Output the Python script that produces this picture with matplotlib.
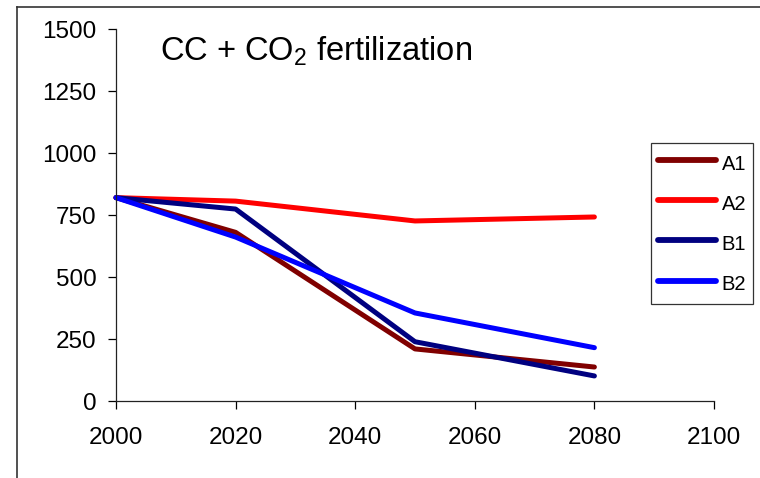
import matplotlib
matplotlib.use("Agg")
import matplotlib.pyplot as plt
from matplotlib.lines import Line2D

plt.rcParams['font.family'] = ['Liberation Sans', 'DejaVu Sans']
plt.rcParams['mathtext.fontset'] = 'custom'
plt.rcParams['mathtext.rm'] = 'Liberation Sans'
plt.rcParams['mathtext.default'] = 'regular'

# scenario runs
years = [2000, 2020, 2050, 2080]
a1 = [820, 680, 210, 137]
a2 = [820, 806, 726, 742]
b1 = [820, 774, 239, 101]
b2 = [820, 661, 355, 215]
series = [("A1", a1, "#800000"), ("A2", a2, "#ff0000"),
          ("B1", b1, "#000080"), ("B2", b2, "#0000ff")]

xticks = [2000, 2020, 2040, 2060, 2080, 2100]
yticks = [0, 250, 500, 750, 1000, 1250, 1500]

fig = plt.figure(figsize=(7.6, 4.78), dpi=100)
ax = fig.add_axes([116 / 760, 1 - 401 / 478, (714 - 116) / 760, (401 - 29) / 478])

for name, vals, col in series:
    ax.plot(years, vals, color=col, lw=3.6, label=name, solid_capstyle='round',
            solid_joinstyle='round', clip_on=False)

ax.set_xlim(2000, 2100)
ax.set_ylim(0, 1500)
ax.set_xticks(xticks)
ax.set_yticks(yticks)
ax.tick_params(direction='out', length=6, width=0.9, labelsize=17.5, colors='black')
ax.tick_params(axis='x', pad=13)
ax.tick_params(axis='y', pad=8)
for s in ['top', 'right']:
    ax.spines[s].set_visible(False)
for s in ['left', 'bottom']:
    ax.spines[s].set_linewidth(0.9)
    ax.spines[s].set_color('#222222')

ax.text(160 / 760, 1 - 61 / 478, "CC + CO$_2$ fertilization", transform=fig.transFigure,
        fontsize=23.5, ha='left', va='baseline')

leg = ax.legend(loc='upper left', bbox_to_anchor=(651 / 760, 1 - 143 / 478),
                bbox_transform=fig.transFigure, fontsize=14.5, frameon=True,
                fancybox=False, handlelength=2.9, handleheight=1.62,
                handletextpad=0.25, labelspacing=0.7, borderpad=0.35,
                borderaxespad=0)
leg.get_frame().set_edgecolor('black')
leg.get_frame().set_linewidth(0.9)
for h in leg.get_lines():
    h.set_linewidth(4.2)

# outer frame edges
fig.add_artist(Line2D([16.5 / 760, 16.5 / 760], [0, 1 - 7 / 478], color='#333333', lw=1.2))
fig.add_artist(Line2D([16.5 / 760, 1], [1 - 7 / 478, 1 - 7 / 478], color='#333333', lw=1.2))

fig.savefig("out.png", dpi=100)
